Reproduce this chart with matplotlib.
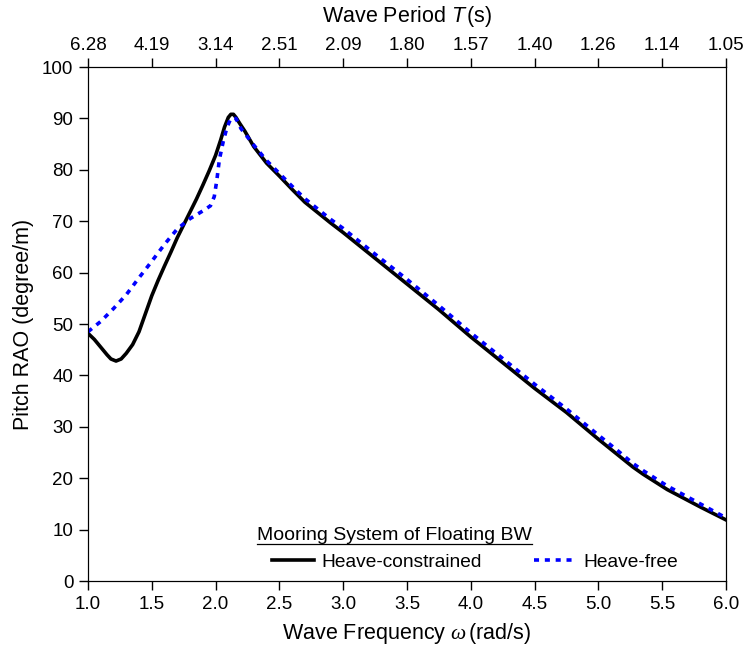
import numpy as np
import matplotlib
matplotlib.use("Agg")
from matplotlib import pyplot as plt
from matplotlib.lines import Line2D

# data
omega_c = [1.00, 1.05, 1.10, 1.15, 1.18, 1.22, 1.26, 1.30, 1.35, 1.40, 1.45, 1.50, 1.55,
           1.60, 1.65, 1.70, 1.75, 1.80, 1.85, 1.90, 1.95, 2.00, 2.04, 2.07, 2.10, 2.12,
           2.14, 2.16, 2.19, 2.23, 2.30, 2.40, 2.50, 2.60, 2.70, 2.80, 2.90, 3.00, 3.25,
           3.50, 3.75, 4.00, 4.25, 4.50, 4.75, 5.00, 5.15, 5.27, 5.35, 5.54, 5.80, 6.00]
rao_c = [48.2, 47.0, 45.5, 44.0, 43.2, 42.8, 43.2, 44.3, 46.0, 48.5, 52.0, 55.5, 58.5,
         61.3, 64.0, 66.8, 69.3, 71.8, 74.3, 77.0, 79.8, 82.8, 85.8, 88.3, 90.2, 90.8,
         90.8, 90.2, 89.0, 87.5, 84.5, 81.3, 78.8, 76.2, 73.7, 71.7, 69.7, 67.8, 62.8,
         57.8, 52.8, 47.5, 42.5, 37.5, 32.8, 27.6, 24.6, 22.2, 20.8, 17.8, 14.4, 11.9]

omega_f = [1.00, 1.10, 1.20, 1.30, 1.40, 1.50, 1.60, 1.70, 1.80, 1.90, 1.96, 1.99, 2.01,
           2.03, 2.06, 2.09, 2.12, 2.16, 2.20, 2.30, 2.40, 2.50, 2.60, 2.70, 2.80, 2.90,
           3.00, 3.25, 3.50, 3.75, 4.00, 4.25, 4.50, 4.75, 5.00, 5.15, 5.27, 5.35, 5.54,
           5.80, 6.00]
rao_f = [48.5, 50.5, 53.0, 55.7, 59.0, 62.2, 65.5, 68.5, 70.5, 72.0, 73.0, 74.8, 78.0,
         82.0, 85.5, 88.3, 90.0, 90.0, 88.0, 84.8, 81.8, 79.3, 76.8, 74.4, 72.4, 70.4,
         68.6, 63.6, 58.7, 53.6, 48.3, 43.3, 38.3, 33.5, 28.4, 25.4, 22.9, 21.5, 18.5,
         15.0, 12.3]

freq_ticks = [1.0, 1.5, 2.0, 2.5, 3.0, 3.5, 4.0, 4.5, 5.0, 5.5, 6.0]
period_labels = ["6.28", "4.19", "3.14", "2.51", "2.09", "1.80", "1.57", "1.40", "1.26", "1.14", "1.05"]

plt.rcParams["font.family"] = ["Liberation Sans", "DejaVu Sans"]
plt.rcParams["font.size"] = 13.5
plt.rcParams["mathtext.fontset"] = "custom"
plt.rcParams["mathtext.it"] = "Liberation Serif:italic"
plt.rcParams["mathtext.sf"] = "Liberation Sans:italic"

fig = plt.figure(figsize=(7.43, 6.61), dpi=100)
ax = fig.add_axes([0.1184, 0.121, 0.8586, 0.7776])

ax.plot(omega_c, rao_c, color="black", lw=2.6, label="Heave-constrained", zorder=3)
ax.plot(omega_f, rao_f, color="#0000ff", lw=2.6, ls=(0, (1.4, 1.6)), label="Heave-free", zorder=4)

ax.set_xlim(1, 6)
ax.set_ylim(0, 100)
ax.set_xticks(freq_ticks)
ax.set_xticklabels([f"{t:.1f}" for t in freq_ticks])
ax.set_yticks(range(0, 101, 10))
ax.tick_params(direction="out", length=6.5, width=1, pad=4)
ax.set_xlabel(r"Wave Frequency $\omega\,$(rad/s)", fontsize=15.5, labelpad=6)
ax.set_ylabel("Pitch RAO (degree/m)", fontsize=15.5, labelpad=6)

top = ax.twiny()
top.set_xlim(ax.get_xlim())
top.set_xticks(freq_ticks)
top.set_xticklabels(period_labels, fontsize=13.5)
top.tick_params(direction="out", length=6.5, width=1, pad=3)
top.set_xlabel(r"Wave Period $\mathsf{T}\,$(s)", fontsize=15.5, labelpad=11)

leg = ax.legend(loc="center left", bbox_to_anchor=(0.288, 0.037), ncol=2, frameon=False,
                fontsize=13.8, handlelength=2.2, columnspacing=2.7, handletextpad=0.4,
                borderpad=0, borderaxespad=0)

# legend heading, underlined
ttl = ax.text(0.265, 0.0798, "Mooring System of Floating BW", transform=ax.transAxes,
              fontsize=14, va="baseline", ha="left")
fig.canvas.draw()
bb = ttl.get_window_extent()
W, H = fig.get_size_inches() * fig.dpi
uy = ax.transAxes.transform((0, 0.072))[1]
fig.add_artist(Line2D([bb.x0 / W, bb.x1 / W], [uy / H, uy / H], color="black", lw=0.9))

fig.savefig("out.png", dpi=100)
